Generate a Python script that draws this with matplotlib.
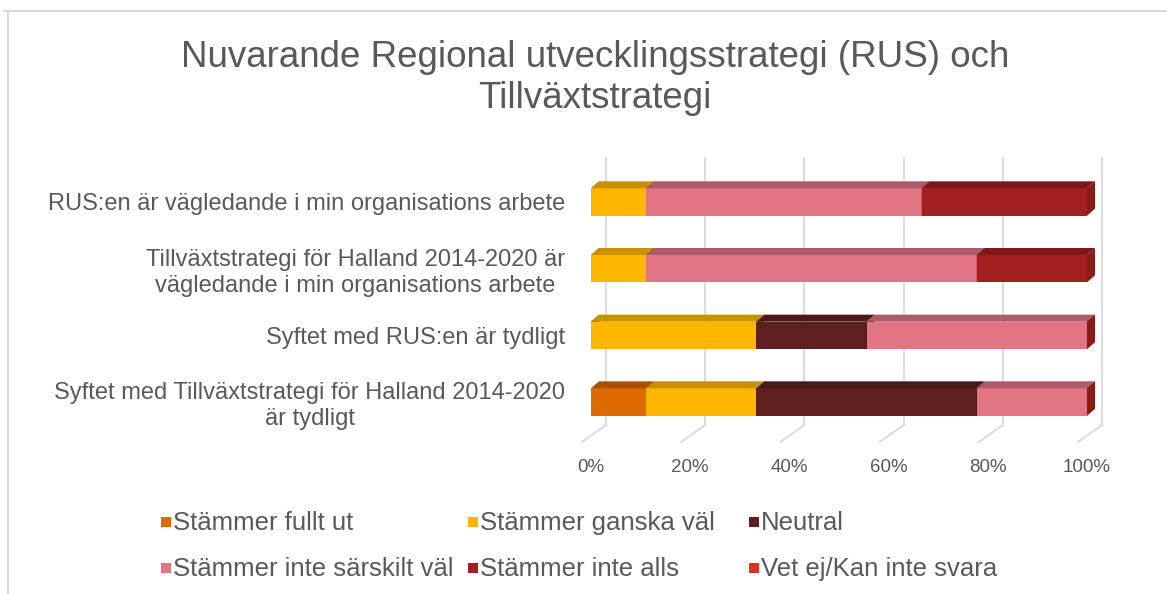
import matplotlib
matplotlib.use('Agg')
import matplotlib.pyplot as plt
from matplotlib.patches import Polygon, Rectangle
from matplotlib.lines import Line2D
import numpy as np

# --- Data (answers out of 9 respondents) ---
categories = [
    'RUS:en är vägledande i min organisations arbete',
    'Tillväxtstrategi för Halland 2014-2020 är\nvägledande i min organisations arbete',
    'Syftet med RUS:en är tydligt',
    'Syftet med Tillväxtstrategi för Halland 2014-2020\när tydligt',
]
series_names = [
    'Stämmer fullt ut',
    'Stämmer ganska väl',
    'Neutral',
    'Stämmer inte särskilt väl',
    'Stämmer inte alls',
    'Vet ej/Kan inte svara',
]
n_respondents = 9
fullt_ut = [0, 0, 0, 1]
ganska_val = [1, 1, 3, 2]
neutral = [0, 0, 2, 4]
inte_sarskilt = [5, 6, 4, 2]
inte_alls = [3, 2, 0, 0]
vet_ej = [0, 0, 0, 0]

front_colors = ['#DE6A00', '#FFB600', '#5E1F20', '#E27584', '#A11F1F', '#E0301E']
top_colors = ['#A85000', '#C89100', '#4A1819', '#AD5B67', '#7E1818', '#B02516']
side_colors = ['#9E4C00', '#B88500', '#421516', '#9E1F1A', '#8C1B14', '#A02216']

TEXT = '#595959'
GRID = '#d9d9d9'

W_PX, H_PX = 1167, 594
fig = plt.figure(figsize=(W_PX / 100, H_PX / 100), dpi=100)
plt.rcParams['font.family'] = ['Liberation Sans', 'DejaVu Sans']

# axes placement (pixel based)
px_per_unit = 4.96
x0_px = 591
xlo, xhi = -3, 105
ylo, yhi = -0.6, 3.75
row_px = 66.67
bottom_px = 442
left_px = x0_px + xlo * px_per_unit
right_px = x0_px + xhi * px_per_unit
top_px = bottom_px - (yhi - ylo) * row_px
ax = fig.add_axes([left_px / W_PX, 1 - bottom_px / H_PX,
                   (right_px - left_px) / W_PX, (bottom_px - top_px) / H_PX])
ax.set_xlim(xlo, xhi)
ax.set_ylim(ylo, yhi)
for s in ax.spines.values():
    s.set_visible(False)

# 3D depth offsets in data units
dx = 8 / px_per_unit
dy = 7 / row_px
h = 0.41

# back wall gridlines and floor
gdx = 15 / px_per_unit
fdx = 9 / px_per_unit
floor_back = -0.345
for k in range(0, 101, 20):
    ax.plot([k + gdx, k + gdx], [floor_back, 3.66], color=GRID, lw=1.3, clip_on=False, zorder=0)
    ax.plot([k - fdx, k + gdx], [ylo, floor_back], color=GRID, lw=1.3, clip_on=False, zorder=0)

data = np.array([fullt_ut, ganska_val, neutral, inte_sarskilt, inte_alls, vet_ej], dtype=float)
pct = data / n_respondents * 100
ypos = np.arange(len(categories))[::-1]

for i, y in enumerate(ypos):
    left = 0.0
    for j in range(len(series_names)):
        if pct[j].sum() == 0:
            continue
        v = pct[j, i]
        if v > 0:
            ax.barh(y, v, left=left, height=h, color=front_colors[j], edgecolor='none', zorder=2)
            top = y + h / 2
            ax.add_patch(Polygon([(left, top), (left + v, top), (left + v + dx, top + dy),
                                  (left + dx, top + dy)], closed=True,
                                 facecolor=top_colors[j], edgecolor='none', zorder=2))
        r = left + v
        ax.add_patch(Polygon([(r, y - h / 2), (r + dx, y - h / 2 + dy), (r + dx, y + h / 2 + dy),
                              (r, y + h / 2)], closed=True,
                             facecolor=side_colors[j], edgecolor='none', zorder=2))
        left += v

ax.set_xticks(range(0, 101, 20))
ax.set_xticklabels([f'{k}%' for k in range(0, 101, 20)], fontsize=13.5, color=TEXT)
ax.set_yticks(ypos)
ax.set_yticklabels(categories, fontsize=17, color=TEXT)
for lbl in ax.get_yticklabels():
    lbl.set_multialignment('center')
ax.tick_params(axis='x', length=0, pad=12)
ax.tick_params(axis='y', length=0, pad=8)

# title
fig.text(595 / W_PX, 1 - 78 / H_PX,
         'Nuvarande Regional utvecklingsstrategi (RUS) och\nTillväxtstrategi',
         ha='center', va='center', fontsize=26.5, color=TEXT, linespacing=1.25)

# legend (row-wise order like the original)
col_x = [161, 468, 749]
row_y = [522, 568]
sq = 10
for j, name in enumerate(series_names):
    cx = col_x[j % 3]
    cy = row_y[j // 3]
    fig.add_artist(Rectangle((cx / W_PX, 1 - (cy + sq / 2) / H_PX), sq / W_PX, sq / H_PX,
                             facecolor=front_colors[j], edgecolor='none',
                             transform=fig.transFigure))
    fig.text((cx + sq + 2) / W_PX, 1 - (cy + 1) / H_PX, name, ha='left', va='center',
             fontsize=18.5, color=TEXT)

# outer chart frame
fig.add_artist(Line2D([4 / W_PX, 1], [1 - 11 / H_PX, 1 - 11 / H_PX], color=GRID, lw=1.5))
fig.add_artist(Line2D([8 / W_PX, 8 / W_PX], [0, 1 - 11 / H_PX], color=GRID, lw=1.5))

fig.savefig('out.png', dpi=100, facecolor='white')
plt.close()
